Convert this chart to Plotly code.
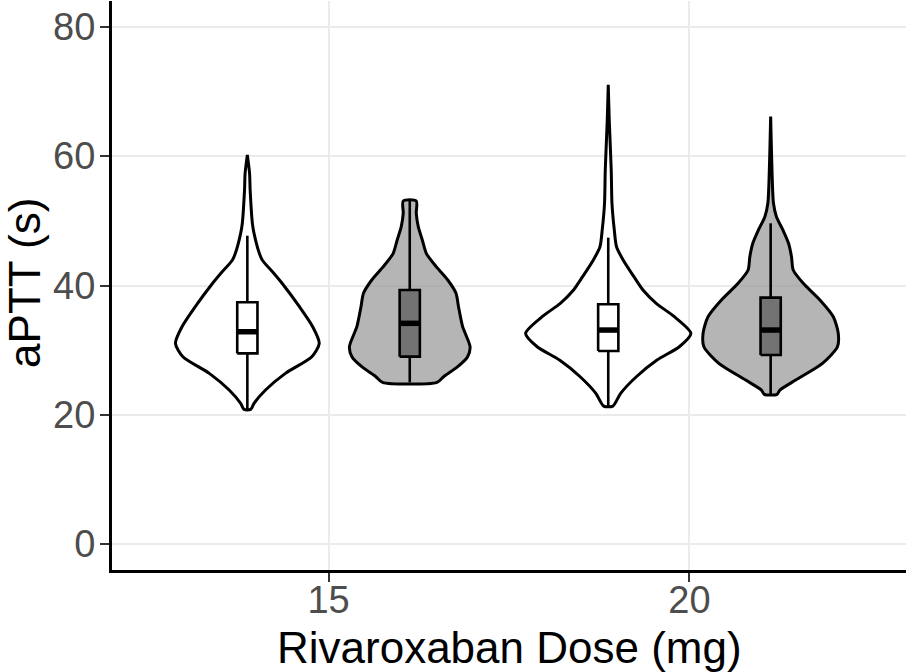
import plotly.graph_objects as go

# ---- data ----
doses = ["15", "20"]
dose_pos = [1, 2]
groups = ["A", "B"]
group_offset = [-0.225, 0.225]
violin_fill = ["rgba(255,255,255,1)", "rgba(150,150,150,0.7)"]
box_fill = ["#ffffff", "#737373"]

# violin density profiles (y level, relative half-width)
w15_y = [60.19, 57.36, 54.78, 49.62, 48.07, 44.98, 43.95, 41.88, 40.34, 36.72,
         33.63, 31.05, 28.99, 26.41, 23.83, 21.77, 20.84]
w15_d = [0, 0.027, 0.034, 0.061, 0.081, 0.145, 0.18, 0.32, 0.42, 0.63,
         0.79, 0.87, 0.78, 0.46, 0.22, 0.081, 0.04]
g15_y = [53.07, 51.17, 49.1, 47.04, 44.98, 42.91, 40.85, 38.79, 36.72, 33.63,
         30.53, 28.99, 27.44, 25.89, 25.02]
g15_d = [0.079, 0.079, 0.103, 0.152, 0.20, 0.32, 0.46, 0.56, 0.59, 0.64,
         0.73, 0.70, 0.58, 0.41, 0.33]
w20_y = [71.03, 65.6, 57.87, 52.72, 48.59, 46.0, 43.95, 41.37, 39.3, 37.24,
         35.17, 32.6, 30.53, 28.47, 25.89, 23.32, 21.35]
w20_d = [0, 0.012, 0.036, 0.045, 0.073, 0.10, 0.18, 0.31, 0.42, 0.58,
         0.80, 1.0, 0.86, 0.59, 0.34, 0.15, 0.055]
g20_y = [66.12, 57.87, 52.72, 50.65, 48.59, 46.53, 44.46, 42.4, 40.34, 37.76,
         35.17, 32.6, 30.53, 27.96, 25.38, 23.83, 23.16]
g20_d = [0, 0.016, 0.034, 0.07, 0.148, 0.216, 0.252, 0.273, 0.394, 0.596,
         0.758, 0.818, 0.808, 0.627, 0.303, 0.112, 0.076]

# box statistics
box_q1 = [[29.5, 29.0], [29.86, 29.25]]
box_med = [[32.85, 34.15], [33.11, 33.11]]
box_q3 = [[37.4, 39.3], [37.09, 38.12]]
box_lo = [[20.84, 25.02], [21.35, 23.16]]
box_hi = [[47.7, 53.07], [47.4, 49.62]]

profiles = [[(w15_y, w15_d), (g15_y, g15_d)], [(w20_y, w20_d), (g20_y, g20_d)]]

y_ticks = [0, 20, 40, 60, 80]

VIOLIN_HALF = 0.229
BOX_W = 0.056
LW = 3

fig = go.Figure()

for i, pos in enumerate(dose_pos):
    for j, off in enumerate(group_offset):
        c = pos + off
        ys, ds = profiles[i][j]
        left = [c - VIOLIN_HALF * d for d in ds]
        right = [c + VIOLIN_HALF * d for d in ds]
        xs = left + right[::-1] + [left[0]]
        yy = list(ys) + list(ys)[::-1] + [ys[0]]
        fig.add_trace(go.Scatter(
            x=xs, y=yy, mode="lines", fill="toself",
            fillcolor=violin_fill[j],
            line=dict(color="black", width=LW, shape="spline", smoothing=0.7),
            hoverinfo="skip", showlegend=False))
        # whisker
        fig.add_trace(go.Scatter(
            x=[c, c], y=[box_lo[i][j], box_hi[i][j]], mode="lines",
            line=dict(color="black", width=2.6),
            hoverinfo="skip", showlegend=False))
        # box
        bl, br = c - BOX_W / 2, c + BOX_W / 2
        fig.add_trace(go.Scatter(
            x=[bl, br, br, bl, bl],
            y=[box_q1[i][j], box_q1[i][j], box_q3[i][j], box_q3[i][j], box_q1[i][j]],
            mode="lines", fill="toself", fillcolor=box_fill[j],
            line=dict(color="black", width=2.6),
            hoverinfo="skip", showlegend=False))
        # median
        fig.add_trace(go.Scatter(
            x=[bl, br], y=[box_med[i][j]] * 2,
            mode="lines", line=dict(color="black", width=5.5),
            hoverinfo="skip", showlegend=False))

font_family = "Liberation Sans, Arial, sans-serif"

fig.update_layout(
    width=909, height=672,
    margin=dict(l=112, r=3, t=1, b=102),
    paper_bgcolor="white", plot_bgcolor="white",
    font=dict(family=font_family),
    xaxis=dict(
        range=[0.4, 2.6], tickvals=dose_pos, ticktext=doses,
        showgrid=True, gridcolor="#ebebeb", gridwidth=2.2,
        zeroline=False, showline=True, linecolor="black", linewidth=3,
        ticks="outside", ticklen=9, tickwidth=2, tickcolor="#333333",
        tickfont=dict(size=38, color="#4d4d4d", family=font_family),
        ticklabelstandoff=-15, automargin=False,
    ),
    yaxis=dict(
        range=[-4, 84], tickvals=y_ticks,
        showgrid=True, gridcolor="#ebebeb", gridwidth=2.2,
        zeroline=False, showline=True, linecolor="black", linewidth=3,
        ticks="outside", ticklen=9, tickwidth=2, tickcolor="#333333",
        tickfont=dict(size=38, color="#4d4d4d", family=font_family),
        ticklabelstandoff=-3, automargin=False,
    ),
    annotations=[
        dict(text="Rivaroxaban Dose (mg)", xref="paper", yref="paper",
             x=0.5, y=-0.182, xanchor="center", yanchor="bottom",
             showarrow=False,
             font=dict(size=44, color="black", family=font_family)),
        dict(text="aPTT (s)", xref="paper", yref="paper",
             x=-0.1105, y=0.505, xanchor="center", yanchor="middle",
             textangle=-90, showarrow=False,
             font=dict(size=44, color="black", family=font_family)),
    ],
)

fig.write_html("out.html", config={"displayModeBar": False},
               post_script="document.body.style.margin='0';")
